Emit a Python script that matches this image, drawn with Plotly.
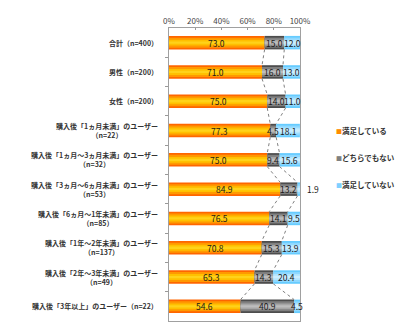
import plotly.graph_objects as go

categories = [
    "合計（n=400）",
    "男性（n=200）",
    "女性（n=200）",
    "購入後「1ヵ月未満」のユーザー<br>（n=22）",
    "購入後「1ヵ月～3ヵ月未満」のユーザー<br>（n=32）",
    "購入後「3ヵ月～6ヵ月未満」のユーザー<br>（n=53）",
    "購入後「6ヵ月～1年未満」のユーザー<br>（n=85）",
    "購入後「1年～2年未満」のユーザー<br>（n=137）",
    "購入後「2年～3年未満」のユーザー<br>（n=49）",
    "購入後「3年以上」のユーザー（n=22）",
]
satisfied = [73.0, 71.0, 75.0, 77.3, 75.0, 84.9, 76.5, 70.8, 65.3, 54.6]
neutral = [15.0, 16.0, 14.0, 4.5, 9.4, 13.2, 14.1, 15.3, 14.3, 40.9]
unsatisfied = [12.0, 13.0, 11.0, 18.1, 15.6, 1.9, 9.5, 13.9, 20.4, 4.5]
series_names = ["満足している", "どちらでもない", "満足していない"]
x_ticks = [0, 20, 40, 60, 80, 100]

FONT = "Noto Sans CJK JP"
n = len(categories)
ys = list(range(n))
series = [satisfied, neutral, unsatisfied]
# gradient layers: (width, color) outer -> inner
layers = [
    [(0.46, "#FF6600"), (0.34, "#FF9900"), (0.2, "#FFC000"), (0.08, "#FFD21A")],
    [(0.46, "#4D4D4D"), (0.34, "#808080"), (0.2, "#A6A6A6"), (0.08, "#BDBDBD")],
    [(0.46, "#66CCFF"), (0.34, "#8FD8FF"), (0.2, "#B5E6FF"), (0.08, "#CCEEFF")],
]
legend_colors = ["#FF8C00", "#808080", "#7FD0FF"]

fig = go.Figure()
bases = [0.0] * n
cums = []
for s, vals in enumerate(series):
    for w, c in layers[s]:
        fig.add_trace(go.Bar(
            y=ys, x=vals, base=bases, orientation="h", width=w,
            marker=dict(color=c, line=dict(width=0)), showlegend=False,
            hoverinfo="skip"))
    new_bases = [b + v for b, v in zip(bases, vals)]
    cums.append(new_bases)
    # value labels
    for i, (b, v) in enumerate(zip(bases, vals)):
        if v < 3:
            fig.add_annotation(x=(b + v) / 100 + 0.035, xref="paper", y=i, yref="y",
                               text=f"{v:.1f}", showarrow=False, xanchor="left",
                               yanchor="middle",
                               font=dict(family=FONT, size=8.5, color="#1a1a1a"))
        else:
            fig.add_annotation(x=b + v / 2, y=i, text=f"{v:.1f}", showarrow=False,
                               xanchor="center", yanchor="middle",
                               font=dict(family=FONT, size=8.5, color="#1a1a1a"))
    bases = new_bases

# dotted connector lines
hw = 0.23
for cum in cums[:2]:
    for i in range(n - 1):
        fig.add_shape(type="line", x0=cum[i], y0=i + hw, x1=cum[i + 1], y1=i + 1 - hw,
                      xref="x", yref="y", line=dict(color="#808080", width=1, dash="dot"))

# category labels
for i, cat in enumerate(categories):
    fig.add_annotation(x=-0.068, xref="paper", y=i, yref="y", text=f"<b>{cat}</b>",
                       showarrow=False, xanchor="right", yanchor="middle", align="center",
                       font=dict(family=FONT, size=7, color="#333333"))

# legend
for k, name in enumerate(series_names):
    fig.add_annotation(x=1.26, xref="paper", y=3 + k * 0.92, yref="y",
                       text=f"<span style='color:{legend_colors[k]};font-size:6px'>■</span><b>{name}</b>",
                       showarrow=False, xanchor="left", yanchor="middle",
                       font=dict(family=FONT, size=7.5, color="#333333"))

fig.update_layout(
    width=400, height=330, margin=dict(l=169, r=100, t=28, b=9),
    paper_bgcolor="white", plot_bgcolor="white", barmode="overlay",
    showlegend=False,
    xaxis=dict(side="top", range=[0, 100], tickvals=x_ticks,
               ticktext=[f"{t}%" for t in x_ticks], ticks="inside", ticklen=2,
               tickcolor="#999999", showgrid=False, zeroline=False,
               showline=True, linecolor="#A0A0A0", mirror=True,
               tickfont=dict(family=FONT, size=8, color="#444444")),
    yaxis=dict(range=[n - 0.5, -0.5], tickvals=[i + 0.5 for i in range(n - 1)],
               showticklabels=False, ticks="outside", ticklen=3, tickcolor="#999999",
               showgrid=False, zeroline=False, showline=True, linecolor="#A0A0A0",
               mirror=True),
)

fig.write_html("out.html")
